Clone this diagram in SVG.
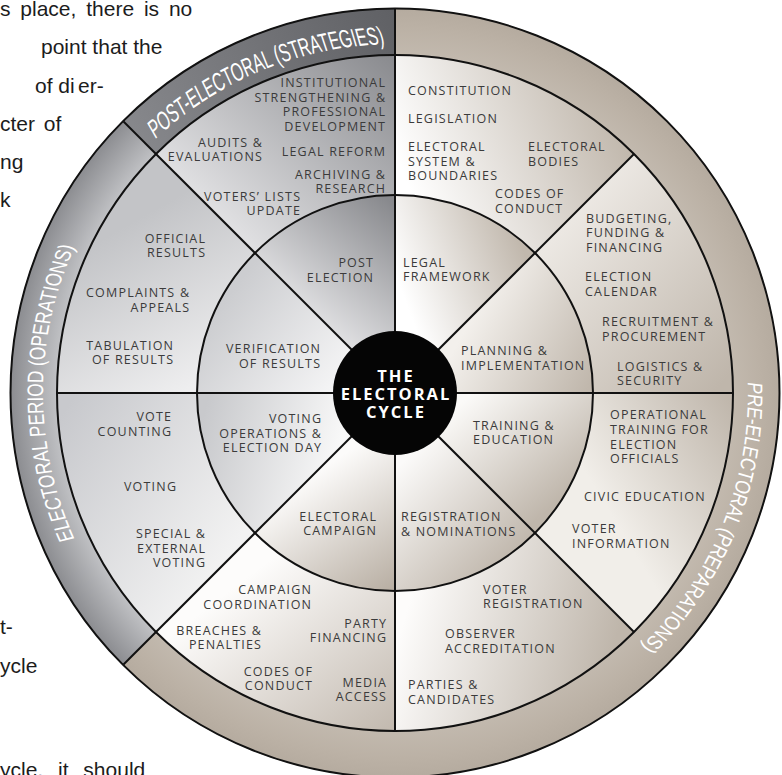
<svg xmlns="http://www.w3.org/2000/svg" width="782" height="775" viewBox="0 0 782 775">
<defs>
<style>
.bg{font-family:"Liberation Sans",Arial,sans-serif;font-size:21px;fill:#1c1c1c}
.l{font-family:"Open Sans","Noto Sans","DejaVu Sans",sans-serif;font-size:12.5px;letter-spacing:1.2px;fill:#3b3b3b}
.e{text-anchor:end}
.c{font-family:"Open Sans","Noto Sans","DejaVu Sans",sans-serif;font-size:16.5px;font-weight:700;letter-spacing:2px;fill:#fff;text-anchor:middle}
.rt{font-family:"Liberation Sans",Arial,sans-serif;fill:#fff}
.ln{stroke:#111;stroke-width:2;fill:none}
</style>
<linearGradient id="gOpost" gradientUnits="userSpaceOnUse" x1="140" y1="140" x2="395" y2="20"><stop offset="0" stop-color="#86878b"/><stop offset="1" stop-color="#606165"/></linearGradient>
<radialGradient id="gOelec" gradientUnits="userSpaceOnUse" cx="395" cy="393" r="385"><stop offset="0.878" stop-color="#c0c1c4"/><stop offset="1" stop-color="#8b8c90"/></radialGradient>
<radialGradient id="gOpre" gradientUnits="userSpaceOnUse" cx="395" cy="393" r="385"><stop offset="0.878" stop-color="#c2b9ae"/><stop offset="0.95" stop-color="#bbb1a5"/><stop offset="1" stop-color="#b5ab9f"/></radialGradient>
<linearGradient id="gI1" gradientUnits="userSpaceOnUse" x1="405" y1="300" x2="525" y2="255"><stop offset="0" stop-color="#ffffff"/><stop offset="1" stop-color="#c1b8ad"/></linearGradient>
<linearGradient id="gI2" gradientUnits="userSpaceOnUse" x1="470" y1="320" x2="590" y2="385"><stop offset="0" stop-color="#f3f0ec"/><stop offset="1" stop-color="#c0b7ac"/></linearGradient>
<linearGradient id="gI3" gradientUnits="userSpaceOnUse" x1="470" y1="395" x2="560" y2="500"><stop offset="0" stop-color="#fbfaf8"/><stop offset="1" stop-color="#bfb6ab"/></linearGradient>
<linearGradient id="gI4" gradientUnits="userSpaceOnUse" x1="405" y1="460" x2="520" y2="575"><stop offset="0" stop-color="#fbfaf9"/><stop offset="1" stop-color="#b9afa3"/></linearGradient>
<linearGradient id="gI5" gradientUnits="userSpaceOnUse" x1="320" y1="470" x2="400" y2="590"><stop offset="0" stop-color="#fcfbfa"/><stop offset="1" stop-color="#b6aca0"/></linearGradient>
<linearGradient id="gI6" gradientUnits="userSpaceOnUse" x1="340" y1="445" x2="205" y2="410"><stop offset="0" stop-color="#f8f8f8"/><stop offset="1" stop-color="#c8c9cc"/></linearGradient>
<linearGradient id="gI7" gradientUnits="userSpaceOnUse" x1="335" y1="385" x2="225" y2="300"><stop offset="0" stop-color="#f4f4f5"/><stop offset="1" stop-color="#cccdd0"/></linearGradient>
<linearGradient id="gI8" gradientUnits="userSpaceOnUse" x1="300" y1="320" x2="395" y2="205"><stop offset="0" stop-color="#e6e6e8"/><stop offset="1" stop-color="#88898d"/></linearGradient>
<linearGradient id="gM1" gradientUnits="userSpaceOnUse" x1="410" y1="190" x2="610" y2="110"><stop offset="0" stop-color="#ffffff"/><stop offset="1" stop-color="#c2b9ae"/></linearGradient>
<linearGradient id="gM2" gradientUnits="userSpaceOnUse" x1="560" y1="230" x2="725" y2="380"><stop offset="0" stop-color="#ece8e3"/><stop offset="1" stop-color="#bfb6ab"/></linearGradient>
<linearGradient id="gM3" gradientUnits="userSpaceOnUse" x1="590" y1="480" x2="730" y2="395"><stop offset="0" stop-color="#f1eee9"/><stop offset="1" stop-color="#bfb6ab"/></linearGradient>
<linearGradient id="gM4" gradientUnits="userSpaceOnUse" x1="410" y1="600" x2="610" y2="660"><stop offset="0" stop-color="#fdfcfb"/><stop offset="1" stop-color="#bfb6ab"/></linearGradient>
<linearGradient id="gM5" gradientUnits="userSpaceOnUse" x1="270" y1="560" x2="395" y2="725"><stop offset="0" stop-color="#fdfcfb"/><stop offset="1" stop-color="#c3bab0"/></linearGradient>
<linearGradient id="gM6" gradientUnits="userSpaceOnUse" x1="245" y1="530" x2="65" y2="410"><stop offset="0" stop-color="#f2f2f2"/><stop offset="1" stop-color="#c8c9cd"/></linearGradient>
<linearGradient id="gM7" gradientUnits="userSpaceOnUse" x1="195" y1="385" x2="110" y2="235"><stop offset="0" stop-color="#eeeeef"/><stop offset="1" stop-color="#c3c4c7"/></linearGradient>
<linearGradient id="gM8" gradientUnits="userSpaceOnUse" x1="230" y1="235" x2="395" y2="60"><stop offset="0" stop-color="#e2e2e4"/><stop offset="1" stop-color="#8a8b8f"/></linearGradient>
<path id="pTop" d="M174.5,-503.7 A349,581.67 0 0 1 174.5,503.7"/>
<path id="pLeft" d="M176,-401.1 A352,463.16 0 0 1 176,401.1"/>
<path id="pRight" d="M176.5,-382.1 A353,441.25 0 0 1 176.5,382.1"/>
</defs>

<g id="page-text" class="bg">
<text x="0" y="16" word-spacing="4">s place, there is no</text>
<text x="41" y="53.5">point that the</text>
<text x="35" y="92.5">of di</text>
<text x="78" y="92.5">er-</text>
<text x="0" y="130.5" word-spacing="3">cter of</text>
<text x="0" y="169">ng</text>
<text x="0" y="207">k</text>
<text x="0" y="634">t-</text>
<text x="0" y="673">ycle</text>
<text x="0" y="777" word-spacing="9">ycle, it should</text>
</g>

<g id="ring-post-electoral">
<path d="M122.76,120.76 A385,385 0 0 1 395,8 L395,55 A338,338 0 0 0 156,154 Z" fill="url(#gOpost)"/>
<g transform="translate(395,393) rotate(-112.5) scale(1,0.6)"><text class="rt" font-size="26"><textPath href="#pTop" startOffset="50%" text-anchor="middle">POST-ELECTORAL (STRATEGIES)</textPath></text></g>
</g>
<g id="ring-electoral-period">
<path d="M122.76,665.24 A385,385 0 0 1 122.76,120.76 L156,154 A338,338 0 0 0 156,632 Z" fill="url(#gOelec)"/>
<g transform="translate(395,393) rotate(180) scale(1,0.76)"><text class="rt" font-size="22.5"><textPath href="#pLeft" startOffset="50%" text-anchor="middle">ELECTORAL PERIOD (OPERATIONS)</textPath></text></g>
</g>
<g id="ring-pre-electoral">
<path d="M395,8 A385,385 0 1 1 122.76,665.24 L156,632 A338,338 0 1 0 395,55 Z" fill="url(#gOpre)"/>
<g transform="translate(395,393) rotate(22) scale(1,0.8)"><text class="rt" font-size="21.5"><textPath href="#pRight" startOffset="50%" text-anchor="middle">PRE-ELECTORAL (PREPARATIONS)</textPath></text></g>
</g>

<g id="legal-framework">
<path d="M395,393 L395,195 A198,198 0 0 1 535,253 Z" fill="url(#gI1)"/>
<text class="l"><tspan x="403" y="267">LEGAL</tspan><tspan x="403" y="281">FRAMEWORK</tspan></text>
</g>
<g id="legal-framework-items">
<path d="M395,55 A338,338 0 0 1 634,154 L535,253 A198,198 0 0 0 395,195 Z" fill="url(#gM1)"/>
<text class="l" x="408" y="95">CONSTITUTION</text>
<text class="l" x="408" y="123">LEGISLATION</text>
<text class="l"><tspan x="408" y="151">ELECTORAL</tspan><tspan x="408" y="166">SYSTEM &amp;</tspan><tspan x="408" y="180">BOUNDARIES</tspan></text>
<text class="l"><tspan x="528" y="151">ELECTORAL</tspan><tspan x="528" y="166">BODIES</tspan></text>
<text class="l"><tspan x="495" y="198">CODES OF</tspan><tspan x="495" y="213">CONDUCT</tspan></text>
</g>

<g id="planning-implementation">
<path d="M395,393 L535,253 A198,198 0 0 1 593,393 Z" fill="url(#gI2)"/>
<text class="l"><tspan x="461" y="355">PLANNING &amp;</tspan><tspan x="461" y="370">IMPLEMENTATION</tspan></text>
</g>
<g id="planning-implementation-items">
<path d="M634,154 A338,338 0 0 1 733,393 L593,393 A198,198 0 0 0 535,253 Z" fill="url(#gM2)"/>
<text class="l"><tspan x="586" y="223">BUDGETING,</tspan><tspan x="586" y="237">FUNDING &amp;</tspan><tspan x="586" y="252">FINANCING</tspan></text>
<text class="l"><tspan x="585" y="281">ELECTION</tspan><tspan x="585" y="296">CALENDAR</tspan></text>
<text class="l"><tspan x="602" y="326">RECRUITMENT &amp;</tspan><tspan x="602" y="341">PROCUREMENT</tspan></text>
<text class="l"><tspan x="617" y="371">LOGISTICS &amp;</tspan><tspan x="617" y="385">SECURITY</tspan></text>
</g>

<g id="training-education">
<path d="M395,393 L593,393 A198,198 0 0 1 535,533 Z" fill="url(#gI3)"/>
<text class="l"><tspan x="473" y="430">TRAINING &amp;</tspan><tspan x="473" y="444">EDUCATION</tspan></text>
</g>
<g id="training-education-items">
<path d="M733,393 A338,338 0 0 1 634,632 L535,533 A198,198 0 0 0 593,393 Z" fill="url(#gM3)"/>
<text class="l"><tspan x="610" y="419">OPERATIONAL</tspan><tspan x="610" y="434">TRAINING FOR</tspan><tspan x="610" y="449">ELECTION</tspan><tspan x="610" y="463">OFFICIALS</tspan></text>
<text class="l" x="584" y="501">CIVIC EDUCATION</text>
<text class="l"><tspan x="572" y="533">VOTER</tspan><tspan x="572" y="548">INFORMATION</tspan></text>
</g>

<g id="registration-nominations">
<path d="M395,393 L535,533 A198,198 0 0 1 395,591 Z" fill="url(#gI4)"/>
<text class="l"><tspan x="401" y="521">REGISTRATION</tspan><tspan x="401" y="536">&amp; NOMINATIONS</tspan></text>
</g>
<g id="registration-nominations-items">
<path d="M634,632 A338,338 0 0 1 395,731 L395,591 A198,198 0 0 0 535,533 Z" fill="url(#gM4)"/>
<text class="l"><tspan x="483" y="594">VOTER</tspan><tspan x="483" y="608">REGISTRATION</tspan></text>
<text class="l"><tspan x="445" y="638">OBSERVER</tspan><tspan x="445" y="653">ACCREDITATION</tspan></text>
<text class="l"><tspan x="408" y="689">PARTIES &amp;</tspan><tspan x="408" y="704">CANDIDATES</tspan></text>
</g>

<g id="electoral-campaign">
<path d="M395,393 L395,591 A198,198 0 0 1 255,533 Z" fill="url(#gI5)"/>
<text class="l e"><tspan x="377.2" y="521">ELECTORAL</tspan><tspan x="377.2" y="535">CAMPAIGN</tspan></text>
</g>
<g id="electoral-campaign-items">
<path d="M395,731 A338,338 0 0 1 156,632 L255,533 A198,198 0 0 0 395,591 Z" fill="url(#gM5)"/>
<text class="l e"><tspan x="312.2" y="594">CAMPAIGN</tspan><tspan x="312.2" y="609">COORDINATION</tspan></text>
<text class="l e"><tspan x="262.2" y="635">BREACHES &amp;</tspan><tspan x="262.2" y="649">PENALTIES</tspan></text>
<text class="l e"><tspan x="387.2" y="628">PARTY</tspan><tspan x="387.2" y="642">FINANCING</tspan></text>
<text class="l e"><tspan x="313.2" y="676">CODES OF</tspan><tspan x="313.2" y="690">CONDUCT</tspan></text>
<text class="l e"><tspan x="387.2" y="687">MEDIA</tspan><tspan x="387.2" y="701">ACCESS</tspan></text>
</g>

<g id="voting-operations">
<path d="M395,393 L255,533 A198,198 0 0 1 197,393 Z" fill="url(#gI6)"/>
<text class="l e"><tspan x="322.2" y="423">VOTING</tspan><tspan x="322.2" y="438">OPERATIONS &amp;</tspan><tspan x="322.2" y="452">ELECTION DAY</tspan></text>
</g>
<g id="voting-operations-items">
<path d="M156,632 A338,338 0 0 1 57,393 L197,393 A198,198 0 0 0 255,533 Z" fill="url(#gM6)"/>
<text class="l e"><tspan x="172.2" y="421">VOTE</tspan><tspan x="172.2" y="436">COUNTING</tspan></text>
<text class="l e" x="177.2" y="491">VOTING</text>
<text class="l e"><tspan x="206.2" y="538">SPECIAL &amp;</tspan><tspan x="206.2" y="553">EXTERNAL</tspan><tspan x="206.2" y="567">VOTING</tspan></text>
</g>

<g id="verification-results">
<path d="M395,393 L197,393 A198,198 0 0 1 255,253 Z" fill="url(#gI7)"/>
<text class="l e"><tspan x="321.2" y="353">VERIFICATION</tspan><tspan x="321.2" y="368">OF RESULTS</tspan></text>
</g>
<g id="verification-results-items">
<path d="M57,393 A338,338 0 0 1 156,154 L255,253 A198,198 0 0 0 197,393 Z" fill="url(#gM7)"/>
<text class="l e"><tspan x="206.2" y="243">OFFICIAL</tspan><tspan x="206.2" y="257">RESULTS</tspan></text>
<text class="l e"><tspan x="190.2" y="297">COMPLAINTS &amp;</tspan><tspan x="190.2" y="312">APPEALS</tspan></text>
<text class="l e"><tspan x="174.2" y="350">TABULATION</tspan><tspan x="174.2" y="364">OF RESULTS</tspan></text>
</g>

<g id="post-election">
<path d="M395,393 L255,253 A198,198 0 0 1 395,195 Z" fill="url(#gI8)"/>
<text class="l e"><tspan x="374.2" y="267">POST</tspan><tspan x="374.2" y="282">ELECTION</tspan></text>
</g>
<g id="post-election-items">
<path d="M156,154 A338,338 0 0 1 395,55 L395,195 A198,198 0 0 0 255,253 Z" fill="url(#gM8)"/>
<text class="l e"><tspan x="386.2" y="87">INSTITUTIONAL</tspan><tspan x="386.2" y="102">STRENGTHENING &amp;</tspan><tspan x="386.2" y="116">PROFESSIONAL</tspan><tspan x="386.2" y="131">DEVELOPMENT</tspan></text>
<text class="l e" x="386.2" y="156">LEGAL REFORM</text>
<text class="l e"><tspan x="386.2" y="179">ARCHIVING &amp;</tspan><tspan x="386.2" y="193">RESEARCH</tspan></text>
<text class="l e"><tspan x="263.2" y="147">AUDITS &amp;</tspan><tspan x="263.2" y="161">EVALUATIONS</tspan></text>
<text class="l e"><tspan x="301.2" y="201">VOTERS’ LISTS</tspan><tspan x="301.2" y="215">UPDATE</tspan></text>
</g>

<g id="connectors" class="ln">
<circle cx="395" cy="393" r="384.5"/>
<circle cx="395" cy="393" r="338"/>
<circle cx="395" cy="393" r="198"/>
<line x1="395" y1="9" x2="395" y2="731"/>
<line x1="57" y1="393" x2="733" y2="393"/>
<line x1="123.5" y1="121.5" x2="634" y2="632"/>
<line x1="123.5" y1="664.5" x2="634" y2="154"/>
</g>

<g id="electoral-cycle-center">
<circle cx="395" cy="393" r="62" fill="#050505"/>
<text class="c"><tspan x="396" y="382">THE</tspan><tspan x="396" y="400">ELECTORAL</tspan><tspan x="396" y="418">CYCLE</tspan></text>
</g>
</svg>
